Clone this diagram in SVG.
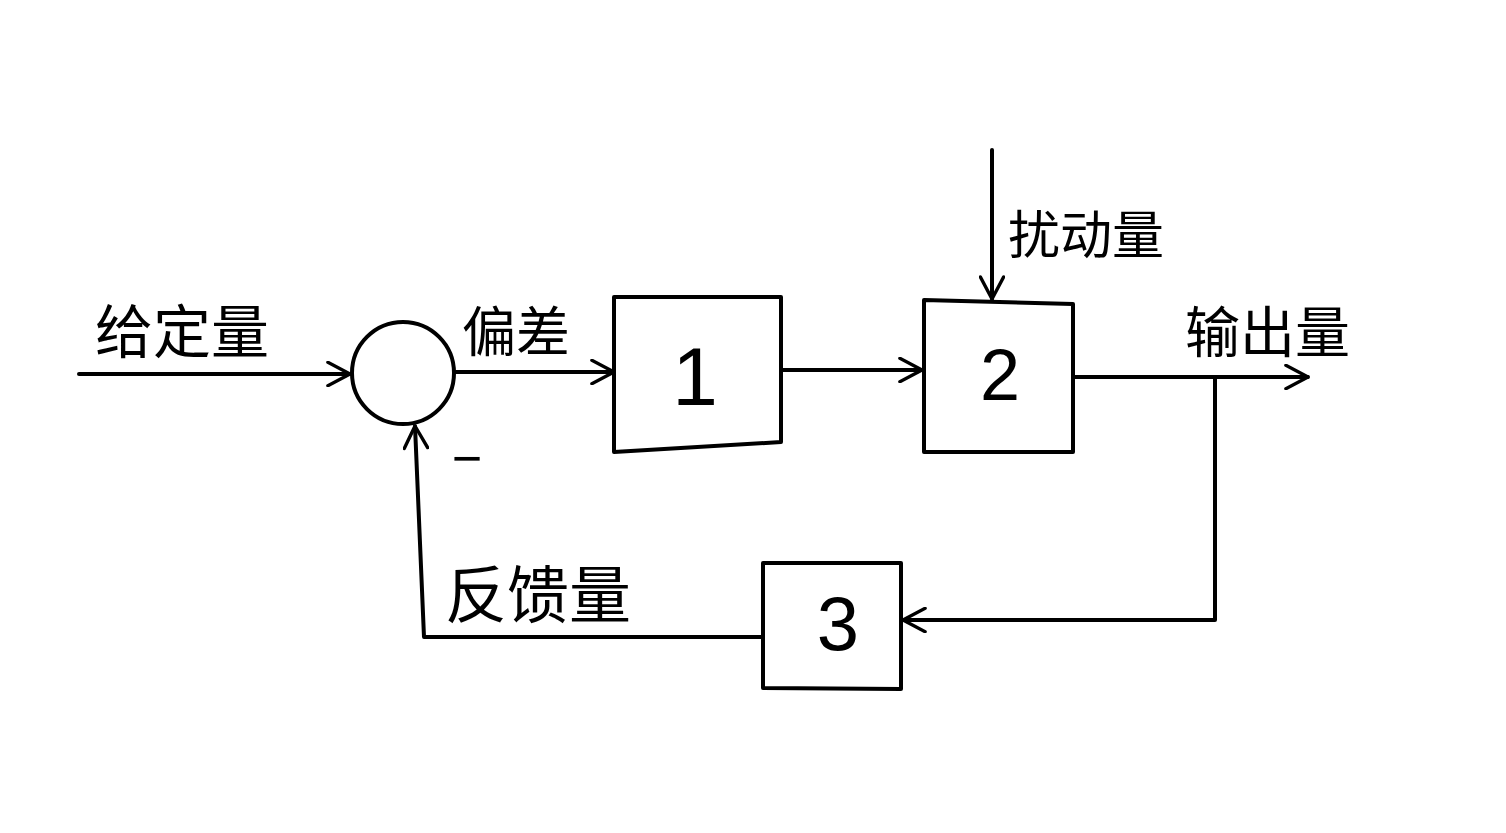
<svg xmlns="http://www.w3.org/2000/svg" width="1506" height="833" viewBox="0 0 1506 833">
<defs>
<marker id="arr" viewBox="0 0 20 20" refX="19" refY="10" markerWidth="26" markerHeight="26" markerUnits="userSpaceOnUse" orient="auto">
<path d="M2,1 L19,10 L2,19" fill="none" stroke="#000" stroke-width="2.6" stroke-linecap="round" stroke-linejoin="round"/>
</marker>
<style>
.s{fill:none;stroke:#000;stroke-width:4;stroke-linecap:round;stroke-linejoin:round}
.b{fill:#fff;stroke:#000;stroke-width:4;stroke-linejoin:round}
.t{font-family:"Noto Sans CJK SC","Noto Sans CJK JP",sans-serif;fill:#000}
.n{font-family:"Liberation Sans",sans-serif;fill:#000;text-anchor:middle}
</style>
</defs>
<rect width="1506" height="833" fill="#fff"/>
<g id="connectors">
<line class="s" x1="79" y1="374" x2="350" y2="374" marker-end="url(#arr)"/>
<line class="s" x1="455" y1="372" x2="614" y2="372" marker-end="url(#arr)"/>
<line class="s" x1="781" y1="370" x2="922" y2="370" marker-end="url(#arr)"/>
<line class="s" x1="992" y1="150" x2="992" y2="299" marker-end="url(#arr)"/>
<line class="s" x1="1074" y1="377" x2="1308" y2="377" marker-end="url(#arr)"/>
<polyline class="s" points="1215,377 1215,620 903,620" marker-end="url(#arr)"/>
<polyline class="s" points="763,637 424,637 415,426" marker-end="url(#arr)"/>
</g>
<g id="sum">
<circle class="b" cx="403" cy="373" r="51"/>
<text x="467" y="476" class="n" font-size="52">−</text>
</g>
<g id="block1">
<polygon class="b" points="614,297 781,297 781,442 614,452"/>
<text x="695" y="405" class="n" font-size="82">1</text>
</g>
<g id="block2">
<polygon class="b" points="924,300 1073,304 1073,452 924,452"/>
<text x="1000" y="400" class="n" font-size="72">2</text>
</g>
<g id="block3">
<polygon class="b" points="763,563 901,563 901,689 763,688"/>
<text x="838" y="650" class="n" font-size="76">3</text>
</g>
<g id="labels">
<text class="t" x="95" y="353" font-size="58">给定量</text>
<text class="t" x="462" y="352" font-size="54">偏差</text>
<text class="t" x="1008" y="254" font-size="52">扰动量</text>
<text class="t" x="1185" y="352" font-size="55">输出量</text>
<text class="t" x="445" y="618" font-size="62">反馈量</text>
</g>
</svg>
